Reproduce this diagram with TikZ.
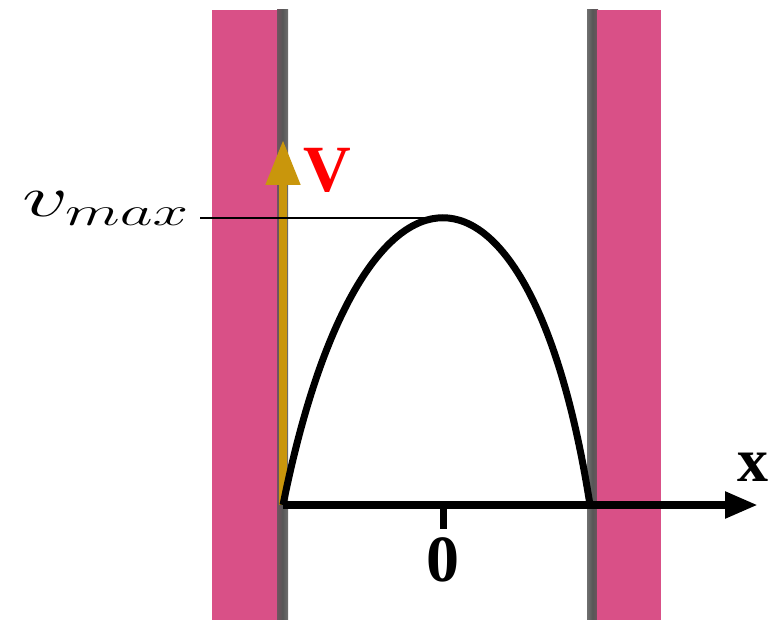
\RequirePackage{fix-cm}
\documentclass[tikz,border=0pt]{standalone}
\usepackage{fontspec}
\setmainfont{Liberation Serif}
\usetikzlibrary{arrows.meta}
\definecolor{wallpink}{HTML}{D95087}
\definecolor{wallgray}{HTML}{565656}
\definecolor{gold}{HTML}{C9960C}
\tikzset{
  wallfill/.style={fill=wallpink},
  walledgeL/.style={left color=wallgray!80!wallpink,right color=wallgray!85!white,middle color=wallgray},
  walledgeR/.style={left color=wallgray!85!white,right color=wallgray!80!wallpink,middle color=wallgray},
  axisline/.style={line width=8pt,-{Triangle[length=33pt,width=25pt]}},
  velarrow/.style={gold,line width=8pt,-{Triangle[length=45pt,width=33pt]}},
  profile/.style={line width=7pt},
  thinline/.style={line width=1.2pt},
  boldlabel/.style={inner sep=0pt,font=\fontsize{66}{66}\selectfont\bfseries},
}
\begin{document}
\begin{tikzpicture}[x=1pt,y=-1pt]
\useasboundingbox (0,0) rectangle (781,620);
% walls
\fill[wallfill] (212,10) rectangle (278,620);
\shade[walledgeL] (277,10) rectangle (288,620);
\shade[walledgeR] (587,10) rectangle (598,620);
\fill[wallfill] (597,10) rectangle (661,620);
% coordinates
\coordinate (O) at (283,505);
\coordinate (E) at (758,505);
\coordinate (R) at (590,505);
\coordinate (P) at (441,218);
\coordinate (L) at (200,218);
\coordinate (G) at (283,140);
\coordinate (T0) at (443,505);
\coordinate (T1) at (443,529);
% velocity arrow
\draw[velarrow] (O) -- (G);
% axis
\draw[axisline] (O) -- (E);
\draw[line width=7pt] (T0) -- (T1);
% profile
\draw[profile] (O) .. controls (360,122) and (530,122) .. (R);
% vmax line
\draw[thinline] (L) -- (P);
% labels
\node[boldlabel,text=red] (V) at (327,170) {V};
\node[boldlabel,font=\fontsize{62}{62}\selectfont\bfseries] (X) at (753,467) {x};
\node[boldlabel] (Z) at (443,560) {0};
\node[inner sep=0pt,anchor=base east,font=\fontsize{58}{58}\selectfont] (VM) at (189,217) {\scalebox{1.57}[1]{$v_{max}$}};
\end{tikzpicture}
\end{document}
